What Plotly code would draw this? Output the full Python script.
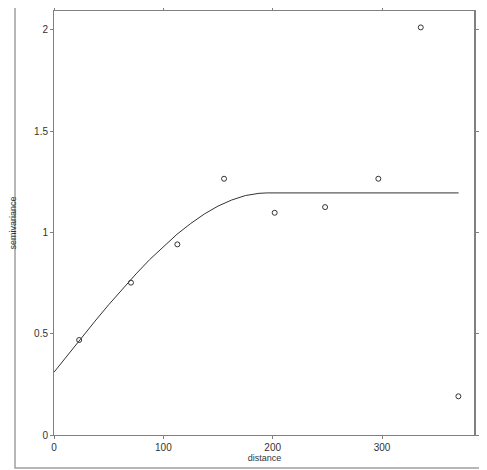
import plotly.graph_objects as go

# empirical semivariogram points
distance = [23, 70.4, 112.8, 155.5, 201.8, 247.9, 296.6, 335.4, 369.8]
semivariance = [0.469, 0.752, 0.941, 1.265, 1.097, 1.125, 1.265, 2.012, 0.191]

# fitted model curve
model_dist = [0, 12.5, 25, 37.5, 50, 62.5, 75, 87.5, 100, 112.5, 125, 137.5,
              150, 162.5, 175, 187.5, 195, 370]
model_gamma = [0.31, 0.395, 0.479, 0.562, 0.643, 0.721, 0.795, 0.866, 0.931, 0.991,
               1.044, 1.091, 1.130, 1.160, 1.182, 1.193, 1.195, 1.195]

x_ticks = [0, 100, 200, 300]
y_ticks = [0, 0.5, 1, 1.5, 2]
y_tick_text = ["0", "0.5", "1", "1.5", "2"]

fig = go.Figure()
fig.add_trace(go.Scatter(x=model_dist, y=model_gamma, mode="lines",
                         line=dict(color="#333333", width=1), hoverinfo="skip"))
fig.add_trace(go.Scatter(x=distance, y=semivariance, mode="markers",
                         marker=dict(symbol="circle-open", size=5, color="#333333",
                                     line=dict(width=1))))

axis_style = dict(showgrid=False, zeroline=False, showline=True, linecolor="#808080",
                  linewidth=1, mirror="ticks", ticks="outside", ticklen=3,
                  tickcolor="#808080", automargin=False,
                  tickfont=dict(size=10, color="#333333"))

fig.update_xaxes(range=[0, 385], tickvals=x_ticks, title=dict(text="distance", standoff=0,
                 font=dict(size=9, color="#333333")), **axis_style)
fig.update_yaxes(range=[0, 2.093], tickvals=y_ticks, ticktext=y_tick_text,
                 title=dict(text="semivariance", standoff=18,
                            font=dict(size=9, color="#333333")), **axis_style)

# outer frame and thicker right border
fig.add_shape(type="rect", xref="paper", yref="paper", x0=-0.0926, x1=1.0238,
              y0=-0.0778, y1=1.03, line=dict(color="#a0a0a0", width=1.5))
fig.add_shape(type="line", xref="paper", yref="paper", x0=1, x1=1, y0=0, y1=1,
              line=dict(color="#808080", width=2))

# the page adds an 8px body margin, so the figure is sized to fit inside it
fig.update_layout(width=479, height=462, showlegend=False,
                  margin=dict(l=46, r=12, t=3, b=35),
                  paper_bgcolor="white", plot_bgcolor="white",
                  font=dict(family="Liberation Sans, Arial, sans-serif"))

fig.write_html("out.html")
